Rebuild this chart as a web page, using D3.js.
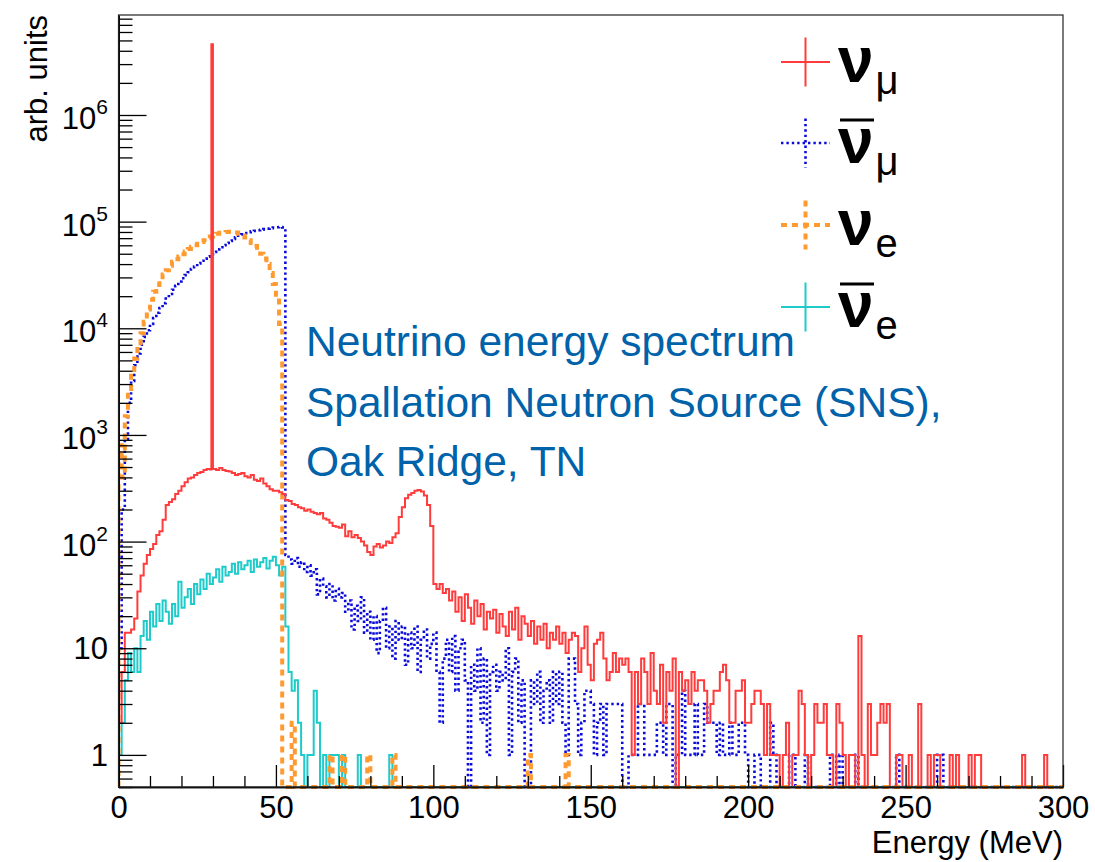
<!DOCTYPE html>
<html>
<head>
<meta charset="utf-8">
<script src="https://cdn.jsdelivr.net/npm/d3@7"></script>
<style>
  body { margin: 0; background: #fff; }
  svg { font-family: "Liberation Sans", Arial, Helvetica, sans-serif; }
</style>
</head>
<body>
<div id="chart"></div>
<script>
// bin contents, 1 MeV bins from 0 to 300 MeV
var numu = [
  2, 6, 14, 14, 15, 19, 34, 48, 62, 75, 85, 95, 115, 125, 160, 220, 235, 250, 280, 300,
  330, 360, 390, 400, 420, 440, 450, 470, 480, 475, 480, 470, 490, 470, 460, 455, 440, 420, 430, 440,
  410, 400, 420, 380, 370, 390, 350, 330, 310, 300, 300, 290, 280, 245, 240, 225, 220, 210, 205, 195,
  200, 190, 185, 180, 185, 165, 160, 150, 140, 138, 135, 145, 112, 125, 110, 115, 108, 100, 92, 80,
  75, 90, 95, 88, 92, 100, 97, 110, 120, 170, 210, 255, 275, 285, 300, 305, 295, 270, 220, 140,
  40, 36, 40, 33, 36, 28, 34, 22, 30, 18, 32, 24, 17, 28, 20, 26, 15, 22, 19, 23,
  14, 21, 16, 13, 22, 15, 24, 12, 20, 17, 13, 18, 11, 16, 12, 17, 10, 14, 12, 16,
  11, 14, 9, 12, 14, 13, 6, 10, 16, 7, 5, 11, 12, 14, 8, 5, 6, 9, 6, 8,
  7, 8, 6, 1, 6, 3, 8, 6, 3, 9, 4, 3, 7, 2, 6, 4, 8, 0, 6, 4,
  5, 3, 6, 4, 5, 5, 4, 2, 3, 4, 4, 6, 7, 5, 2, 2, 4, 4, 5, 2,
  2, 3, 4, 4, 3, 1, 3, 1, 1, 1, 0, 1, 2, 0, 1, 1, 4, 3, 1, 0,
  1, 3, 2, 2, 3, 1, 1, 0, 3, 2, 1, 0, 1, 1, 0, 13, 1, 0, 3, 1,
  1, 2, 3, 2, 3, 0, 0, 1, 1, 0, 0, 1, 0, 0, 3, 0, 0, 1, 0, 1,
  1, 0, 0, 0, 1, 0, 1, 0, 0, 0, 1, 0, 1, 1, 0, 0, 0, 0, 0, 0,
  0, 0, 0, 0, 0, 0, 0, 1, 0, 0, 0, 0, 0, 0, 1, 0, 0, 0, 0, 0
];
// the monoenergetic 29.8 MeV line sits in a narrow bin [from, to, content]
var numuPeak = [29.5, 30, 4600000];
var numubar = [
  10, 200, 900, 2000, 3200, 4500, 5800, 7000, 8300, 9600, 11000, 12500, 14000, 15500, 17200, 19000, 21000, 23000, 25000, 27500,
  29500, 31500, 33500, 36000, 38000, 40500, 43000, 45000, 47000, 49500, 52000, 55000, 57500, 60000, 63000, 66000, 69000, 71500, 74000, 76000,
  78000, 79500, 81000, 82000, 83000, 84000, 85000, 86000, 87000, 88000, 88500, 89000, 88000, 75, 68, 62, 70, 58, 64, 52,
  60, 48, 55, 32, 45, 38, 30, 40, 28, 36, 30, 33, 22, 28, 15, 25, 18, 30, 14, 22,
  12, 20, 9, 18, 24, 10, 16, 8, 18, 12, 16, 7, 14, 10, 16, 6, 12, 15, 8, 11,
  14, 6, 2, 8, 12, 6, 13, 4, 10, 12, 5, 0, 7, 4, 10, 2, 8, 1, 6, 7,
  4, 6, 5, 10, 1, 6, 8, 2, 5, 0, 0, 5, 3, 6, 2, 4, 5, 2, 6, 3,
  6, 2, 1, 8, 8, 3, 1, 2, 4, 4, 3, 1, 2, 3, 1, 3, 3, 3, 3, 3,
  0, 0, 1, 1, 1, 3, 3, 1, 1, 1, 1, 2, 2, 1, 3, 3, 0, 1, 1, 4,
  1, 1, 1, 3, 1, 1, 3, 2, 2, 2, 1, 2, 1, 1, 2, 1, 1, 2, 2, 1,
  0, 0, 1, 1, 0, 0, 0, 2, 1, 0, 0, 0, 0, 1, 1, 0, 0, 0, 1, 0,
  0, 0, 0, 0, 0, 0, 1, 1, 0, 1, 0, 0, 0, 0, 1, 0, 0, 0, 0, 0,
  0, 0, 0, 0, 0, 0, 0, 1, 0, 0, 0, 0, 0, 0, 0, 0, 0, 0, 0, 0,
  1, 1, 0, 0, 0, 0, 0, 0, 0, 0, 0, 0, 0, 0, 0, 0, 0, 0, 0, 0,
  0, 0, 0, 0, 0, 0, 0, 0, 0, 0, 0, 0, 0, 0, 0, 0, 0, 0, 0, 0
];
var nue = [
  800, 400, 1500, 2700, 3800, 5200, 6700, 9000, 11500, 15000, 18500, 22000, 25500, 28500, 32000, 35000, 38500, 42000, 44500, 47000,
  49500, 52500, 55500, 58000, 60000, 62000, 64500, 67000, 70000, 72500, 75000, 77000, 78500, 79500, 80000, 80500, 80000, 79000, 77000, 74000,
  71000, 67000, 63000, 59000, 54000, 50000, 45000, 40000, 33000, 26000, 19000, 11000, 0, 0, 0, 2, 0, 0, 0, 0,
  0, 0, 0, 0, 0, 0, 0, 1, 0, 0, 0, 1, 0, 0, 0, 0, 0, 0, 0, 1,
  0, 0, 0, 0, 0, 0, 0, 1, 0, 0, 0, 0, 0, 0, 0, 0, 0, 0, 0, 0,
  0, 0, 0, 0, 0, 0, 0, 0, 0, 0, 0, 0, 0, 0, 0, 0, 0, 0, 0, 0,
  0, 0, 0, 0, 0, 0, 0, 0, 0, 0, 1, 0, 0, 0, 0, 0, 0, 0, 0, 0,
  0, 0, 1, 0, 0, 0, 0, 0, 0, 0, 0, 0, 0, 0, 0, 0, 0, 0, 0, 0,
  0, 0, 0, 0, 0, 0, 0, 0, 0, 0, 0, 0, 0, 0, 0, 0, 0, 0, 0, 0,
  0, 0, 0, 0, 0, 0, 0, 0, 0, 0, 0, 0, 0, 0, 0, 0, 0, 0, 0, 0,
  0, 0, 0, 0, 0, 0, 0, 0, 0, 0, 0, 0, 0, 0, 0, 0, 0, 0, 0, 0,
  0, 0, 0, 0, 0, 0, 0, 0, 0, 0, 0, 0, 0, 0, 0, 0, 0, 0, 0, 0,
  0, 0, 0, 0, 0, 0, 0, 0, 0, 0, 0, 0, 0, 0, 0, 0, 0, 0, 0, 0,
  0, 0, 0, 0, 0, 0, 0, 0, 0, 0, 0, 0, 0, 0, 0, 0, 0, 0, 0, 0,
  0, 0, 0, 0, 0, 0, 0, 0, 0, 0, 0, 0, 0, 0, 0, 0, 0, 0, 0, 0
];
var nuebar = [
  1, 2, 5, 9, 6, 10, 6, 13, 18, 12, 22, 16, 26, 18, 28, 22, 17, 26, 20, 42,
  24, 30, 36, 26, 40, 32, 44, 36, 50, 40, 46, 55, 42, 58, 48, 52, 62, 50, 64, 55,
  60, 66, 52, 68, 58, 64, 70, 56, 66, 72, 60, 48, 58, 16, 6, 4, 5, 2, 1, 0,
  1, 1, 4, 2, 0, 1, 0, 1, 1, 1, 0, 1, 0, 0, 0, 0, 1, 0, 0, 0,
  0, 0, 0, 0, 0, 0, 1, 0, 0, 0, 0, 0, 0, 0, 0, 0, 0, 0, 0, 0,
  0, 0, 0, 0, 0, 0, 0, 0, 0, 0, 0, 0, 0, 0, 0, 0, 0, 0, 0, 0,
  0, 0, 0, 0, 0, 0, 0, 0, 0, 0, 0, 0, 0, 0, 0, 0, 0, 0, 0, 0,
  0, 0, 0, 0, 0, 0, 0, 0, 0, 0, 0, 0, 0, 0, 0, 0, 0, 0, 0, 0,
  0, 0, 0, 0, 0, 0, 0, 0, 0, 0, 0, 0, 0, 0, 0, 0, 0, 0, 0, 0,
  0, 0, 0, 0, 0, 0, 0, 0, 0, 0, 0, 0, 0, 0, 0, 0, 0, 0, 0, 0,
  0, 0, 0, 0, 0, 0, 0, 0, 0, 0, 0, 0, 0, 0, 0, 0, 0, 0, 0, 0,
  0, 0, 0, 0, 0, 0, 0, 0, 0, 0, 0, 0, 0, 0, 0, 0, 0, 0, 0, 0,
  0, 0, 0, 0, 0, 0, 0, 0, 0, 0, 0, 0, 0, 0, 0, 0, 0, 0, 0, 0,
  0, 0, 0, 0, 0, 0, 0, 0, 0, 0, 0, 0, 0, 0, 0, 0, 0, 0, 0, 0,
  0, 0, 0, 0, 0, 0, 0, 0, 0, 0, 0, 0, 0, 0, 0, 0, 0, 0, 0, 0
];
var binWidth = 1; // MeV
var xTicks = [0, 50, 100, 150, 200, 250, 300];
var yTicks = [1, 10, 1e2, 1e3, 1e4, 1e5, 1e6];
var legendSubs = ["μ", "μ", "e", "e"];
var legendBars = [false, true, false, true];
var infoLines = ["Neutrino energy spectrum", "Spallation Neutron Source (SNS),", "Oak Ridge, TN"];

// chart margins
var margin = { top: 15, right: 32, bottom: 75, left: 118.5 },
  width = 1095 - margin.left - margin.right,
  height = 862 - margin.top - margin.bottom;

var yMin = 0.5, yMax = 8.66e6;

var x = d3.scaleLinear().domain([0, 300]).range([0, width]);
var y = d3.scaleLog().domain([yMin, yMax]).range([height, 0]);

var root = d3
  .select("#chart")
  .append("svg")
  .attr("width", 1095)
  .attr("height", 862);

var svg = root
  .append("g")
  .attr("transform", "translate(" + margin.left + "," + margin.top + ")");

// clip to the frame, red one stops just above the bottom edge
svg.append("clipPath").attr("id", "clipAll")
  .append("rect").attr("x", 0).attr("y", 0).attr("width", width).attr("height", height + 2);
svg.append("clipPath").attr("id", "clipRed")
  .append("rect").attr("x", 0).attr("y", 0).attr("width", width).attr("height", height - 1);

// histogram outline as a step line
var line = d3
  .line()
  .x(function(d) { return x(d[0]); })
  .y(function(d) { return y(d[1]); })
  .curve(d3.curveStepAfter);

function histPoints(values, peak) {
  var pts = [[0, yMin]];
  values.forEach(function(v, i) {
    var lo = i * binWidth;
    pts.push([lo, Math.max(v, yMin)]);
    // narrow bin inside this one
    if (peak && peak[0] >= lo && peak[1] <= lo + binWidth) {
      pts.push([peak[0], peak[2]]);
      if (peak[1] < lo + binWidth) pts.push([peak[1], Math.max(v, yMin)]);
    }
  });
  pts.push([values.length * binWidth, yMin]);
  return pts;
}

var series = [
  { values: numu, peak: numuPeak, color: "#ff3b3b", width: 2, dash: null, clip: "clipRed" },
  { values: numubar, peak: null, color: "#0a0adc", width: 2.6, dash: "2.4,3", clip: "clipAll" },
  { values: nue, peak: null, color: "#ff9a30", width: 4, dash: "6,5", clip: "clipAll" },
  { values: nuebar, peak: null, color: "#1ecaca", width: 2, dash: null, clip: "clipAll" }
];

// draw order: blue, cyan, orange, red on top
[1, 3, 2, 0].forEach(function(k) {
  var s = series[k];
  svg
    .append("path")
    .data([histPoints(s.values, s.peak)])
    .attr("clip-path", "url(#" + s.clip + ")")
    .attr("d", line)
    .style("fill", "none")
    .style("stroke", s.color)
    .style("stroke-width", s.width)
    .style("stroke-dasharray", s.dash);
});

// minor tick values
var yMinor = [];
for (var e = -1; e <= 6; e++) {
  for (var m = 2; m <= 9; m++) {
    var v = m * Math.pow(10, e);
    if (v >= yMin && v <= yMax) yMinor.push(v);
  }
}
var xMinor = d3.range(0, 301, 10).filter(function(d) { return d % 50 !== 0; });

// y axis, ticks inside the frame
svg.append("g")
  .call(d3.axisLeft(y).tickValues(yMinor).tickSize(-14).tickSizeOuter(0).tickFormat(""));
svg.append("g")
  .call(d3.axisLeft(y).tickValues(yTicks).tickSize(-28).tickSizeOuter(0).tickFormat(""));

// x axis
svg.append("g")
  .attr("transform", "translate(0," + height + ")")
  .call(d3.axisBottom(x).tickValues(xMinor).tickSize(-11).tickSizeOuter(0).tickFormat(""));
var gx = svg.append("g")
  .attr("transform", "translate(0," + height + ")")
  .call(d3.axisBottom(x).tickValues(xTicks).tickSize(-22).tickSizeOuter(0));
gx.selectAll("text")
  .attr("y", 31)
  .attr("dy", 0)
  .style("font-size", "31px")
  .style("fill", "#000");

svg.selectAll(".domain").style("stroke", "#000").style("stroke-width", 1.6);
svg.selectAll(".tick line").style("stroke", "#000").style("stroke-width", 1.3);

// frame
svg.append("rect")
  .attr("width", width)
  .attr("height", height)
  .style("fill", "none")
  .style("stroke", "#222")
  .style("stroke-width", 1.2);

// y labels with exponents
yTicks.forEach(function(v) {
  var ex = Math.round(Math.log10(v));
  var t = svg.append("text")
    .attr("x", -10.5)
    .attr("text-anchor", "end")
    .style("font-size", "31px");
  if (ex <= 1) {
    t.attr("y", y(v) + 11).text(String(v));
  } else {
    t.attr("y", y(v) + 14).text("10");
    t.append("tspan").attr("dy", -15).style("font-size", "21px").text(ex);
  }
});

// axis titles
svg.append("text")
  .attr("transform", "translate(-71.5,0) rotate(-90)")
  .attr("text-anchor", "end")
  .style("font-size", "31px")
  .text("arb. units");
svg.append("text")
  .attr("x", width)
  .attr("y", height + 66)
  .attr("text-anchor", "end")
  .style("font-size", "31px")
  .text("Energy (MeV)");

// info text
infoLines.forEach(function(s, i) {
  root.append("text")
    .attr("x", 306)
    .attr("y", [356, 417, 476][i])
    .style("font-size", "42.5px")
    .style("fill", "#0062a9")
    .text(s);
});

// legend
var legendY = [62, 143, 225, 307];
series.forEach(function(s, i) {
  var cx = 805.5, cy = legendY[i];
  var g = root.append("g");
  g.append("line")
    .attr("x1", cx - 24.5).attr("x2", cx + 24.5)
    .attr("y1", cy).attr("y2", cy);
  g.append("line")
    .attr("x1", cx).attr("x2", cx)
    .attr("y1", cy - 24.5).attr("y2", cy + 24.5);
  g.selectAll("line")
    .style("stroke", s.color)
    .style("stroke-width", s.width)
    .style("stroke-dasharray", s.dash);
  var t = g.append("text")
    .attr("x", 838)
    .attr("y", cy + 20)
    .style("font-size", "64px")
    .style("font-weight", "bold")
    .text("ν");
  t.append("tspan")
    .attr("dx", 2)
    .attr("dy", 12)
    .style("font-size", "40px")
    .style("font-weight", "normal")
    .text(legendSubs[i]);
  if (legendBars[i]) {
    g.append("line")
      .attr("x1", 840).attr("x2", 874)
      .attr("y1", cy - 23).attr("y2", cy - 23)
      .style("stroke", "#000")
      .style("stroke-width", 3);
  }
});
</script>
</body>
</html>
